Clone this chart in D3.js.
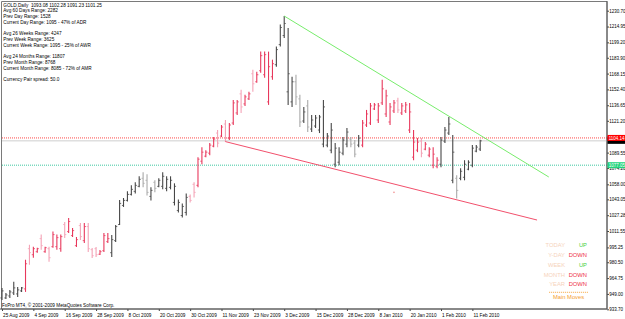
<!DOCTYPE html>
<html>
<head>
<meta charset="utf-8">
<script src="https://cdn.jsdelivr.net/npm/d3@7"></script>
<style>
  body { margin: 0; background: #fff; }
  svg { display: block; font-family: "Liberation Sans", Arial, sans-serif; }
</style>
</head>
<body>
<svg id="chart" width="625" height="319"></svg>
<script>
// GOLD daily bars, 25 Aug 2009 .. 15 Feb 2010
const opens = [945,945,947,950,949,952,954,994,988,991,
  1004,991,994,996,996,994,1018,1011,1007,997,
  1017,1002,1016,993,994,988.5,992,1001,990,1002,
  1018,1037,1042,1048,1051,1056,1064,1062,1046,1060,
  1056,1056,1054,1055,1040,1032,1027,1030,1046,1058,
  1057,1081,1086,1089,1096,1109,1106,1118,1104,1119,
  1129,1148,1138,1143,1168,1160,1171,1167,1140,1165,
  1177,1197,1206,1150,1140,1160,1143,1121,1136,1113,
  1116,1112,1098,1097,1092,1078,1080,1089,1098,1103,
  1099,1097,1097,1117,1119,1133,1122,1139,1128,1120,
  1131,1141,1129,1131,1112,1085,1092,1101,1093,1087,
  1077,1076,1078,1101,1109,1062,1064,1064,1065,1073,
  1077,1091,1093.08];
const highs = [955,950,953,961,956,956,983,998,996,995,
  1008,996,996,1011,1008,1008,1020.5,1024.5,1014.6,1005.6,
  1019.6,1019.6,1019.6,994.7,995.7,992.7,1009.6,1009.6,1007.6,1017.6,
  1042.4,1044.4,1051,1057,1060,1066,1070,1068,1055,1062,
  1064,1070,1066,1066,1059,1043,1039,1049,1048,1060,
  1085,1095,1092,1099,1105,1112,1117,1122,1119,1142,
  1142,1152,1147,1150,1172,1170,1190,1190,1190,1182,
  1195,1217,1225.4,1213.5,1165,1167,1147,1135,1142,1127,
  1127,1127,1142,1109,1119,1099,1095,1105,1114,1105,
  1102,1107,1122,1132,1139,1139,1139,1162,1152,1139,
  1142,1144,1139,1140,1139,1112,1104,1104,1100,1095,
  1095,1085,1105,1115,1125,1107,1067,1074,1082,1082,
  1097,1097,1102.28];
const lows = [943,944,945,948,946,951,951,978,985,990,
  993,990,981,995,993,991,1004.6,1009.6,1005.6,995.7,
  1002.6,999.7,990.7,984.8,985.8,987.7,990.7,999.7,985.8,1000.7,
  1017.6,1035.5,1041,1047,1049,1055,1055,1047,1042,1050,
  1055,1053,1051,1053,1037,1030,1025,1027,1040,1045,
  1055,1078,1085,1087,1095,1095,1105,1100,1102,1117,
  1127,1129,1136,1142,1150,1159,1169,1164,1137,1162,
  1175,1195,1203.5,1137,1135,1137,1115,1119,1110,1110,
  1114,1109,1095,1095,1089,1075,1077,1087,1095,1095,
  1085,1095,1095,1115,1117,1132,1119,1137,1125,1117,
  1129,1129,1127,1129,1109,1082,1090,1085,1092,1085,
  1074,1074,1075,1099,1107,1059,1044,1062,1062,1072,
  1075,1090,1091.23];
const closes = [952,948,951,955,953,955,979,990,994,994,
  997,995,985,1008,1005,1006,1008,1021,1012,1003,
  1006,1016,994,987,988,991,1007,1004,1003,1016,
  1039,1042,1048,1053,1057,1063,1059,1050,1052,1054,
  1062,1066,1063,1062,1056,1040,1036,1045,1042,1050,
  1083,1090,1090,1097,1103,1099,1115,1104,1117,1139,
  1140,1135,1145,1148,1158,1167,1186,1187,1175,1178,
  1192,1214,1218,1168,1160,1145,1120,1130,1115,1122,
  1124,1125,1135,1106,1112,1094,1090,1102,1110,1098,
  1088,1104,1119,1128,1136,1137,1136,1153,1146,1135,
  1139,1132,1136,1137,1130,1100,1100,1089,1098,1093,
  1088,1082,1102,1112,1118,1090,1052,1071,1078,1080,
  1094,1095,1101.25];

// indicator regime: bar index where each colour run starts
const regimes = [[0, "grey"], [6, "red"], [28, "grey"], [48, "red"], [70, "grey"], [92, "red"], [112, "grey"]];

const dateIdx = [0, 8, 16, 24, 32, 40, 48, 56, 64, 72, 80, 88, 96, 104, 112, 120];
const dateLabels = ["25 Aug 2009", "4 Sep 2009", "16 Sep 2009", "28 Sep 2009", "8 Oct 2009", "20 Oct 2009",
  "30 Oct 2009", "11 Nov 2009", "23 Nov 2009", "3 Dec 2009", "15 Dec 2009", "28 Dec 2009",
  "8 Jan 2010", "20 Jan 2010", "1 Feb 2010", "11 Feb 2010"];
const priceTicks = ["1230.70", "1214.95", "1199.20", "1183.90", "1168.15", "1152.40", "1136.65", "1121.20",
  "1105.45", "1089.55", "1074.20", "1058.00", "1043.05", "1027.28", "1011.55", "995.25", "980.50",
  "964.75", "949.00", "933.70"];

const trendUp = [[72, 1225.4], [139.5, 1065.3]];
const trendDown = [[57, 1100.5], [136.5, 1022.5]];
const redLevel = 1104.14;
const bidLevel = 1101.25;
const greenLevel = 1077.05;
const marker = [100, 1050];

const infoLines = ["GOLD,Daily  1093.08 1102.28 1091.23 1101.25", "Avg 60 Days Range: 2282", "Prev Day Range: 1528",
  "Current Day Range: 1095 - 47% of ADR", "", "Avg 26 Weeks Range: 4247", "Prev Week Range: 3625",
  "Current Week Range: 1095 - 25% of AWR", "", "Avg 24 Months Range: 11807", "Prev Month Range: 8768",
  "Current Month Range: 8085 - 72% of AMR", "", "Currency Pair spread: 50.0"];
const moveNames = ["TODAY", "Y-DAY", "WEEK", "MONTH", "YEAR"];
const moveValues = ["UP", "DOWN", "UP", "DOWN", "DOWN"];

const svg = d3.select("#chart");
const plotRight = 607, plotBottom = 309;

const x = d3.scaleLinear().domain([0, 122]).range([2, 480.2]);
const y = d3.scaleLinear().domain([933.7, 1230.7]).range([309.3, 10.7]);

const palette = {
  grey: { strong: "#474747", weak: "#a9a9a9" },
  red: { strong: "#e8385c", weak: "#f4a3b6" },
};
const regimeOf = (i) => regimes.filter((r) => r[0] <= i).pop()[1];

const bars = opens.map((o, i) => ({ i, o, h: highs[i], l: lows[i], c: closes[i] }));

svg.append("rect").attr("width", 625).attr("height", 319).attr("fill", "#fff");

// frame
svg.append("path")
  .attr("d", `M1.5,${plotBottom}V1.5H${plotRight}V${plotBottom}H1.5`)
  .attr("fill", "none").attr("stroke", "#7a7a7a").attr("stroke-width", 1);

// horizontal level lines
svg.append("line").attr("x1", 2).attr("x2", plotRight).attr("y1", y(bidLevel)).attr("y2", y(bidLevel))
  .attr("stroke", "#cfcfcf").attr("stroke-width", 1);
svg.append("line").attr("x1", 2).attr("x2", plotRight).attr("y1", y(redLevel)).attr("y2", y(redLevel))
  .attr("stroke", "#ff4a4a").attr("stroke-width", 1).attr("stroke-dasharray", "1,1");
svg.append("line").attr("x1", 2).attr("x2", plotRight).attr("y1", y(greenLevel)).attr("y2", y(greenLevel))
  .attr("stroke", "#3cc8a0").attr("stroke-width", 1).attr("stroke-dasharray", "1,1");

// bars
const g = svg.append("g").attr("class", "bars");
const colorOf = (d) => palette[regimeOf(d.i)][d.c < d.o ? "weak" : "strong"];
g.selectAll(".hl").data(bars).join("line")
  .attr("x1", (d) => x(d.i)).attr("x2", (d) => x(d.i))
  .attr("y1", (d) => y(d.h)).attr("y2", (d) => y(d.l))
  .attr("stroke", colorOf).attr("stroke-width", 1.1);
g.selectAll(".op").data(bars).join("line")
  .attr("x1", (d) => x(d.i) - 1.6).attr("x2", (d) => x(d.i))
  .attr("y1", (d) => y(d.o)).attr("y2", (d) => y(d.o))
  .attr("stroke", colorOf).attr("stroke-width", 0.8);
g.selectAll(".cl").data(bars).join("line")
  .attr("x1", (d) => x(d.i)).attr("x2", (d) => x(d.i) + 1.6)
  .attr("y1", (d) => y(d.c)).attr("y2", (d) => y(d.c))
  .attr("stroke", colorOf).attr("stroke-width", 0.8);

// trend lines
const line = d3.line().x((d) => x(d[0])).y((d) => y(d[1]));
svg.append("path").attr("d", line(trendUp)).attr("fill", "none").attr("stroke", "#78ec6c").attr("stroke-width", 1);
svg.append("path").attr("d", line(trendDown)).attr("fill", "none").attr("stroke", "#f2506c").attr("stroke-width", 1);
svg.append("circle").attr("cx", x(marker[0])).attr("cy", y(marker[1])).attr("r", 0.8).attr("fill", "#f08a8a");

// price axis
const yAxis = (sel) =>
  sel.attr("transform", `translate(${plotRight},0)`)
    .call(d3.axisRight(y).tickValues(priceTicks.map(Number)).tickSize(2).tickPadding(0.3)
      .tickFormat((d, i) => priceTicks[i]))
    .call((s) => s.select(".domain").remove())
    .call((s) => s.selectAll("text").attr("font-size", 4.5).attr("fill", "#000").attr("font-family", null))
    .call((s) => s.selectAll("line").attr("stroke", "#444"));
svg.append("g").call(yAxis);
svg.append("line").attr("x1", plotRight).attr("x2", plotRight).attr("y1", 1).attr("y2", plotBottom)
  .attr("stroke", "#555").attr("stroke-width", 1);

// date axis
const xAxis = (sel) =>
  sel.attr("transform", `translate(0,${plotBottom})`)
    .call(d3.axisBottom(x).tickValues(dateIdx).tickSize(2).tickFormat((d, i) => dateLabels[i]))
    .call((s) => s.select(".domain").remove())
    .call((s) => s.selectAll("text").attr("font-size", 4.7).attr("fill", "#000").attr("font-family", null)
      .attr("text-anchor", "start").attr("dx", 0.6).attr("y", 4.4))
    .call((s) => s.selectAll("line").attr("stroke", "#444"));
svg.append("g").call(xAxis);
svg.append("line").attr("x1", 0).attr("x2", plotRight).attr("y1", plotBottom).attr("y2", plotBottom)
  .attr("stroke", "#555").attr("stroke-width", 1);

// price tags on the axis
const tag = (price, fill, text) => {
  const t = svg.append("g").attr("transform", `translate(${plotRight + 0.5},${y(price)})`);
  t.append("rect").attr("x", 0).attr("y", -3).attr("width", 18).attr("height", 6).attr("fill", fill);
  if (text) t.append("text").attr("x", 1.2).attr("y", 1.6).attr("font-size", 4.5).attr("fill", "#fff").text(text);
};
tag(bidLevel, "#000", "");
tag(redLevel, "#ff0000", redLevel.toFixed(2));
tag(greenLevel, "#22d47c", greenLevel.toFixed(2));

// info block
svg.append("g").selectAll("text").data(infoLines).join("text")
  .attr("x", 3.3).attr("y", (d, i) => 6.6 + i * 5.75)
  .attr("font-size", 4.7).attr("fill", "#000").style("white-space", "pre").text((d) => d);

svg.append("text").attr("x", 2).attr("y", 307.3).attr("font-size", 4.7).attr("fill", "#000")
  .text("FxPro MT4, \u00a9 2001-2009 MetaQuotes Software Corp.");

// main moves panel
const moves = svg.append("g").attr("font-size", 5.8);
moves.selectAll(".nm").data(moveNames).join("text")
  .attr("x", 565).attr("y", (d, i) => 247 + i * 9.85).attr("text-anchor", "end")
  .attr("fill", "#f6d3bb").text((d) => d);
moves.selectAll(".vl").data(moveValues).join("text")
  .attr("x", 587).attr("y", (d, i) => 247 + i * 9.85).attr("text-anchor", "end")
  .attr("fill", (d) => (d === "UP" ? "#3fd13f" : "#ee3346")).text((d) => d);
moves.append("line").attr("x1", 549).attr("x2", 588).attr("y1", 292.3).attr("y2", 292.3)
  .attr("stroke", "#f5a030").attr("stroke-width", 0.8).attr("stroke-dasharray", "1.2,0.8");
moves.append("text").attr("x", 568.5).attr("y", 298.7).attr("text-anchor", "middle")
  .attr("fill", "#f5a030").text("Main Moves");
</script>
</body>
</html>
